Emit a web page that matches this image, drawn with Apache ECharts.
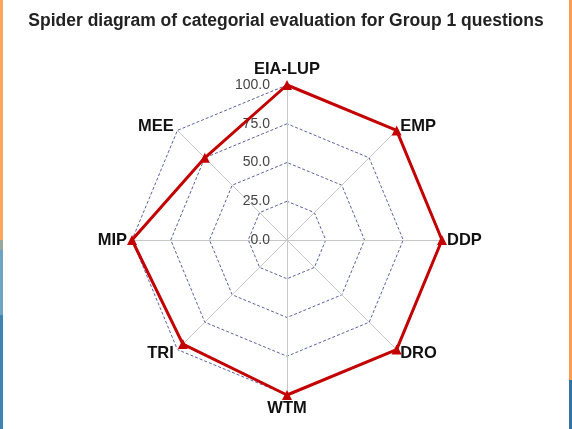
<!DOCTYPE html>
<html>
<head>
<meta charset="utf-8">
<script src="https://cdn.jsdelivr.net/npm/echarts@6/dist/echarts.min.js"></script>
<style>
html, body { margin: 0; padding: 0; background: #fff; }
#chart { width: 572px; height: 429px; }
</style>
</head>
<body>
<div id="chart"></div>
<script>
// indicators in the order echarts walks them (counterclockwise from the top)
var categories = ["EIA-LUP", "MEE", "MIP", "TRI", "WTM", "DRO", "DDP", "EMP"];
var scores = [100, 75, 100, 95, 100, 100, 100, 100];
var maxScore = 100;

var dom = document.getElementById("chart");
var myChart = echarts.init(dom);

var indicators = categories.map(function (name, i) {
    var ind = { name: name, max: maxScore, min: 0 };
    if (i === 0) {
        // only the top axis carries the scale labels
        ind.axisLabel = {
            show: true,
            color: "#444",
            fontSize: 14,
            fontFamily: "Liberation Sans",
            margin: 17,
            formatter: function (v) { return Number(v).toFixed(1); }
        };
    }
    return ind;
});

option = {
    backgroundColor: "#fff",
    animation: false,
    title: {
        text: "Spider diagram of categorial evaluation for Group 1 questions",
        left: "center",
        top: 7,
        textStyle: {
            fontFamily: "Liberation Sans",
            fontSize: 17.5,
            fontWeight: "bold",
            color: "#222"
        }
    },
    graphic: [
        { type: "rect", shape: { x: 0, y: 0, width: 3, height: 240 }, style: { fill: "#ffa65c" } },
        { type: "rect", shape: { x: 0, y: 240, width: 3, height: 10 }, style: { fill: "#9aa7a0" } },
        { type: "rect", shape: { x: 0, y: 250, width: 3, height: 65 }, style: { fill: "#6fa3c4" } },
        { type: "rect", shape: { x: 0, y: 315, width: 3, height: 114 }, style: { fill: "#3b84b3" } },
        { type: "rect", shape: { x: 569, y: 0, width: 3, height: 380 }, style: { fill: "#ff9a4f" } },
        { type: "rect", shape: { x: 569, y: 380, width: 3, height: 49 }, style: { fill: "#2f74a6" } }
    ],
    radar: {
        center: [287, 240],
        radius: 155,
        startAngle: 90,
        splitNumber: 4,
        shape: "polygon",
        indicator: indicators,
        axisName: {
            color: "#111",
            fontFamily: "Liberation Sans",
            fontSize: 16.5,
            fontWeight: "bold"
        },
        nameGap: 5,
        axisLine: { lineStyle: { color: "#c8c8c8", width: 1 } },
        splitLine: { lineStyle: { color: "#5f5fa3", width: 1, type: [3, 2] } },
        splitArea: { show: false },
        axisTick: { show: false },
        axisLabel: { show: false }
    },
    series: [{
        type: "radar",
        symbol: "triangle",
        symbolSize: 10,
        itemStyle: { color: "#c30000" },
        lineStyle: { color: "#c30000", width: 3 },
        data: [{ value: scores, name: "Group 1" }]
    }]
};

if (option && typeof option === "object") {
    myChart.setOption(option, true);
}
</script>
</body>
</html>
